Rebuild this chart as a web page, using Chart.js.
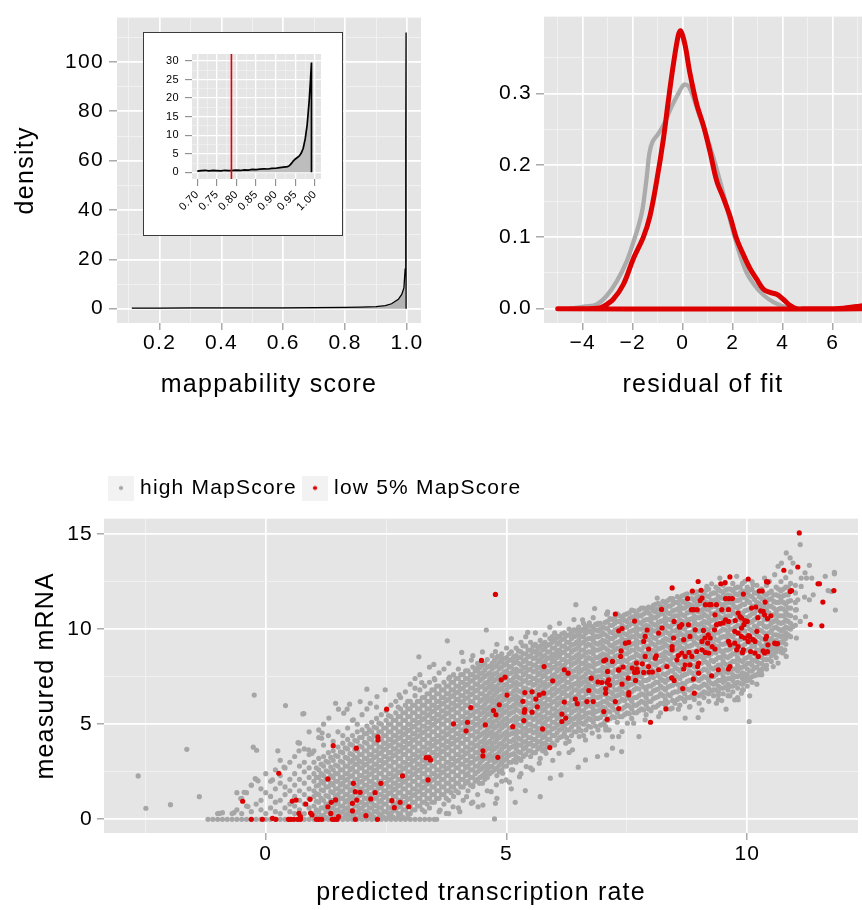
<!DOCTYPE html>
<html>
<head>
<meta charset="utf-8">
<script src="https://cdn.jsdelivr.net/npm/chart.js@4.4.1/dist/chart.umd.min.js"></script>
<style>
  html, body { margin: 0; padding: 0; background: #fff; }
  #page { position: relative; width: 862px; height: 910px; overflow: hidden; }
  canvas { display: block; }
  #mapChart { position: absolute; left: 0; top: 0; }
  #residChart { position: absolute; left: 430px; top: 0; }
  #scatterChart { position: absolute; left: 0; top: 440px; }
  #insetBox { position: absolute; left: 143px; top: 32px; width: 200px; height: 204px;
              box-sizing: border-box; border: 1px solid #3a3a3a; background: #fff; }
</style>
</head>
<body>
<div id="page">
  <canvas id="mapChart" width="430" height="420"></canvas>
  <div id="insetBox"><canvas id="insetChart" width="198" height="202"></canvas></div>
  <canvas id="residChart" width="432" height="420"></canvas>
  <canvas id="scatterChart" width="862" height="470"></canvas>
</div>
<script>
// ---------- mappability score density ----------
const mapScore   = [0.11, 0.2, 0.3, 0.4, 0.5, 0.6, 0.7, 0.8, 0.85, 0.9, 0.93, 0.95, 0.972, 0.983, 0.99, 0.994, 0.996, 0.997, 0.9971];
const mapDensity = [0.2, 0.25, 0.3, 0.3, 0.35, 0.35, 0.4, 0.5, 0.6, 0.8, 1.2, 2.0, 3.8, 5.8, 8.4, 16, 69, 112, 0];

// close-up of the upper tail
const zoomScore   = [0.70, 0.71, 0.72, 0.73, 0.74, 0.75, 0.76, 0.77, 0.78, 0.79, 0.80, 0.81, 0.82, 0.83, 0.84, 0.85, 0.86, 0.87, 0.88, 0.89,
                     0.90, 0.91, 0.92, 0.93, 0.935, 0.94, 0.945, 0.95, 0.955, 0.96, 0.965, 0.97, 0.975, 0.98, 0.985, 0.988, 0.991, 0.9911];
const zoomDensity = [0.3, 0.45, 0.55, 0.4, 0.5, 0.45, 0.4, 0.55, 0.45, 0.5, 0.6, 0.5, 0.65, 0.6, 0.8, 0.75, 0.85, 0.95, 0.9, 1.05,
                     1.1, 1.25, 1.4, 1.55, 1.8, 2.4, 3.1, 3.6, 4.0, 4.4, 5.2, 6.5, 9.0, 12.8, 19, 24, 29.6, 0];
const lowCutoff = 0.787;

// ---------- residual densities ----------
const residHighX = [-4.5, -3.9, -3.44, -3.04, -2.64, -2.24, -1.97, -1.77, -1.64, -1.57, -1.44, -1.33, -1.2, -0.97, -0.71, -0.44, -0.17, 0.05,
                    0.23, 0.43, 0.69, 0.96, 1.23, 1.49, 1.76, 2.03, 2.29, 2.56, 2.89, 3.23, 3.63, 4.03, 4.43, 4.8];
const residHighY = [0, 0.003, 0.006, 0.018, 0.038, 0.066, 0.093, 0.115, 0.133, 0.147, 0.183, 0.217, 0.233, 0.244, 0.26, 0.282, 0.30, 0.312,
                    0.31, 0.294, 0.267, 0.24, 0.21, 0.178, 0.142, 0.106, 0.075, 0.05, 0.032, 0.019, 0.009, 0.003, 0, 0];
const residLowX = [-5.0, -4.0, -3.4, -3.17, -2.77, -2.37, -1.97, -1.57, -1.31, -1.04, -0.77, -0.57, -0.37, -0.17, -0.08, 0.09, 0.29, 0.56,
                   0.83, 1.09, 1.36, 1.63, 1.89, 2.16, 2.43, 2.69, 2.96, 3.23, 3.49, 3.76, 4.03, 4.29, 4.56, 5.0, 6.0, 6.43, 6.96, 7.3, 7.3, -5.0];
const residLowY = [0, 0, 0.0005, 0.003, 0.0135, 0.034, 0.07, 0.10, 0.129, 0.178, 0.237, 0.291, 0.341, 0.382, 0.387, 0.368, 0.328, 0.285,
                   0.255, 0.219, 0.178, 0.154, 0.129, 0.097, 0.075, 0.056, 0.041, 0.027, 0.0226, 0.02, 0.0127, 0.0045, 0, 0, 0, 0.0005, 0.003, 0.004, 0, 0];

// ---------- measured vs predicted, high MapScore genes ----------
// each row: predicted rate, then the measured values at that rate
const highColsLeft = [
  [-1.1,0],[-1.0,0,0.3],[-0.9,0,0.35],[-0.8,0],[-0.7,0,0.3],[-0.6,0,0.5,1.4],[-0.5,0,0.3,1.1],[-0.4,0,0.7,1.4],[-0.3,0,0.4,1.8],
  [-0.2,0,0.8,2.1],[-0.1,0,0.5,1.0,1.6],[0.0,0,0.3,1.4,2.4],[0.1,0,0.6,1.2,2.0],[0.2,0,0.4,0.9,1.6,2.6],[0.3,0,0.3,1.0,1.9,2.3,3.1],
  [0.4,0,0.6,1.3,1.7,2.7],[0.5,0,0.4,0.8,1.5,2.1,3.0],[0.6,0,0.3,0.7,1.2,1.8,2.4,3.3],[0.7,0,0.5,1.0,1.5,2.1,2.8,4.0],
  [0.8,0,0.3,0.8,1.3,1.9,2.5,3.0,3.7],[0.9,0,0.6,1.1,1.6,2.2,2.7,3.4,4.6],[1.0,0,0.3,0.7,1.2,1.5,2.0,2.4,3.0,3.6],
  [1.1,0,0.4,0.9,1.3,1.8,2.2,2.6,3.2,4.3],[1.2,0,0.2,0.6,1.0,1.5,1.9,2.3,2.8,3.3,3.9,5.0],[1.3,0,0.4,0.8,1.2,1.7,2.1,2.5,3.0,3.5,4.4],
  [1.4,0,0.3,0.6,1.0,1.4,1.8,2.2,2.6,3.1,3.6,4.1],[1.5,0,0.2,0.5,0.9,1.3,1.6,2.0,2.4,2.8,3.3,3.8,4.6],
  [1.6,0,0.4,0.7,1.1,1.5,1.9,2.2,2.6,3.0,3.5,4.0,4.4],[1.7,0,0.3,0.6,1.0,1.3,1.7,2.1,2.4,2.8,3.2,3.7,4.2,4.8],
  [1.8,0,0.2,0.5,0.9,1.2,1.6,1.9,2.3,2.7,3.1,3.4,3.9,4.4,5.2],[1.9,0,0.4,0.7,1.1,1.4,1.8,2.1,2.5,2.9,3.2,3.6,4.1,4.6,5.0],
  [2.0,0,0.2,0.6,0.9,1.3,1.6,2.0,2.3,2.7,3.0,3.4,3.8,4.3,4.7,5.5],[2.1,0,0.4,0.8,1.1,1.5,1.8,2.2,2.5,2.9,3.2,3.6,4.0,4.5,4.9,5.8],
  [2.2,0,0.2,0.6,0.9,1.3,1.7,2.0,2.4,2.7,3.1,3.4,3.8,4.2,4.6,5.1],[2.3,0,0.4,0.7,1.1,1.5,1.8,2.2,2.6,2.9,3.3,3.6,4.0,4.4,4.8,5.3,5.9],
  [2.4,0,0.2,0.6,1.0,1.3,1.7,2.0,2.4,2.8,3.1,3.5,3.8,4.2,4.6,5.0,5.5],[2.5,0,0.4,0.8,1.2,1.5,1.9,2.2,2.6,3.0,3.3,3.7,4.0,4.4,4.8,5.2,5.7],
  [2.6,0,0.3,0.6,1.0,1.4,1.7,2.1,2.4,2.8,3.2,3.5,3.9,4.2,4.6,5.0,5.4,6.0],[2.7,0,0.5,0.8,1.2,1.6,1.9,2.3,2.6,3.0,3.4,3.7,4.1,4.4,4.8,5.2,5.6,6.2],
  [2.8,0,0.3,0.7,1.0,1.4,1.8,2.1,2.5,2.8,3.2,3.6,3.9,4.3,4.6,5.0,5.4,5.8,6.4],[2.9,0,0.5,0.9,1.2,1.6,2.0,2.3,2.7,3.0,3.4,3.8,4.1,4.5,4.8,5.2,5.6,6.0,6.7]
];
const highColsMid = [
  [3.0,0,0.3,0.7,1.1,1.4,1.8,2.2,2.5,2.9,3.2,3.6,4.0,4.3,4.7,5.0,5.4,5.8,6.2,7.1],
  [3.1,0,0.5,0.9,1.3,1.6,2.0,2.4,2.7,3.1,3.4,3.8,4.2,4.5,4.9,5.2,5.6,6.0,6.5,7.4],
  [3.2,0,0.7,1.1,1.5,1.8,2.2,2.6,2.9,3.3,3.6,4.0,4.4,4.7,5.1,5.4,5.8,6.2,6.8,7.6],
  [3.3,0,0.4,0.9,1.3,1.7,2.0,2.4,2.8,3.1,3.5,3.8,4.2,4.6,4.9,5.3,5.6,6.0,6.4,7.0],
  [3.4,0,0.6,1.1,1.5,1.9,2.2,2.6,3.0,3.3,3.7,4.0,4.4,4.8,5.1,5.5,5.8,6.2,6.6,7.2,8.0],
  [3.5,0,0.9,1.3,1.7,2.1,2.4,2.8,3.2,3.5,3.9,4.2,4.6,5.0,5.3,5.7,6.0,6.4,6.8,7.4],
  [3.6,0.4,1.1,1.5,1.9,2.3,2.6,3.0,3.4,3.7,4.1,4.4,4.8,5.2,5.5,5.9,6.2,6.6,7.0,7.7],
  [3.7,0.8,1.3,1.7,2.1,2.5,2.8,3.2,3.6,3.9,4.3,4.6,5.0,5.4,5.7,6.1,6.4,6.8,7.2,7.9],
  [3.8,0.3,1.0,1.5,1.9,2.3,2.7,3.0,3.4,3.8,4.1,4.5,4.8,5.2,5.6,5.9,6.3,6.6,7.0,7.4,8.2],
  [3.9,1.2,1.7,2.1,2.5,2.9,3.2,3.6,4.0,4.3,4.7,5.0,5.4,5.8,6.1,6.5,6.8,7.2,7.6],
  [4.0,0.6,1.4,1.9,2.3,2.7,3.1,3.4,3.8,4.2,4.5,4.9,5.2,5.6,6.0,6.3,6.7,7.0,7.4,7.9],
  [4.1,1.0,1.7,2.1,2.5,2.9,3.3,3.6,4.0,4.4,4.7,5.1,5.4,5.8,6.2,6.5,6.9,7.2,7.6,8.3],
  [4.2,1.5,2.0,2.4,2.8,3.1,3.5,3.8,4.2,4.6,4.9,5.3,5.6,6.0,6.4,6.7,7.1,7.4,7.8],
  [4.3,0.9,1.8,2.2,2.6,3.0,3.3,3.7,4.0,4.4,4.8,5.1,5.5,5.8,6.2,6.6,6.9,7.3,7.6,8.0,8.6],
  [4.4,1.3,2.1,2.5,2.8,3.2,3.5,3.9,4.3,4.6,5.0,5.3,5.7,6.0,6.4,6.8,7.1,7.5,7.8,8.2],
  [4.5,1.9,2.3,2.7,3.1,3.4,3.8,4.1,4.5,4.9,5.2,5.6,5.9,6.3,6.6,7.0,7.4,7.7,8.1,8.8],
  [4.6,1.5,2.2,2.6,2.9,3.3,3.7,4.0,4.4,4.7,5.1,5.5,5.8,6.2,6.5,6.9,7.2,7.6,8.0,8.4],
  [4.7,2.5,2.8,3.2,3.6,3.9,4.3,4.6,5.0,5.4,5.7,6.1,6.4,6.8,7.1,7.5,7.9,8.2,8.6],
  [4.8,1.1,2.3,2.7,3.1,3.4,3.8,4.2,4.5,4.9,5.2,5.6,6.0,6.3,6.7,7.0,7.4,7.7,8.1,8.5,9.2],
  [4.9,2.0,2.6,3.0,3.3,3.7,4.0,4.4,4.8,5.1,5.5,5.8,6.2,6.5,6.9,7.3,7.6,8.0,8.3,8.7],
  [5.0,2.8,3.2,3.5,3.9,4.3,4.6,5.0,5.3,5.7,6.0,6.4,6.8,7.1,7.5,7.8,8.2,8.5,9.0],
  [5.1,1.6,2.6,3.0,3.4,3.8,4.1,4.5,4.8,5.2,5.6,5.9,6.3,6.6,7.0,7.3,7.7,8.0,8.4,8.8,9.5],
  [5.2,3.0,3.3,3.7,4.0,4.4,4.7,5.1,5.4,5.8,6.2,6.5,6.9,7.2,7.6,7.9,8.3,8.6,9.0],
  [5.3,2.4,3.1,3.5,3.9,4.2,4.6,4.9,5.3,5.6,6.0,6.3,6.7,7.1,7.4,7.8,8.1,8.5,8.8,9.3],
  [5.4,3.4,3.8,4.1,4.5,4.8,5.2,5.5,5.9,6.2,6.6,6.9,7.3,7.7,8.0,8.4,8.7,9.1,9.6],
  [5.5,2.7,3.3,3.6,4.0,4.3,4.7,5.0,5.4,5.8,6.1,6.5,6.8,7.2,7.5,7.9,8.2,8.6,8.9,9.3],
  [5.6,3.5,3.9,4.2,4.6,4.9,5.3,5.6,6.0,6.4,6.7,7.1,7.4,7.8,8.1,8.5,8.8,9.2,9.8],
  [5.7,3.2,3.8,4.1,4.5,4.8,5.2,5.5,5.9,6.2,6.6,7.0,7.3,7.7,8.0,8.4,8.7,9.1,9.4],
  [5.8,3.7,4.0,4.4,4.7,5.1,5.4,5.8,6.1,6.5,6.9,7.2,7.6,7.9,8.3,8.6,9.0,9.3,9.7],
  [5.9,4.2,4.6,4.9,5.3,5.6,6.0,6.3,6.7,7.1,7.4,7.8,8.1,8.5,8.8,9.2,9.5,10.1],
  [6.0,3.9,4.4,4.8,5.1,5.5,5.8,6.2,6.6,6.9,7.3,7.6,8.0,8.3,8.7,9.0,9.4,9.8],
  [6.1,4.3,4.7,5.0,5.4,5.7,6.1,6.4,6.8,7.2,7.5,7.9,8.2,8.6,8.9,9.3,9.6,10.3],
  [6.2,4.5,4.9,5.2,5.6,5.9,6.3,6.7,7.0,7.4,7.7,8.1,8.4,8.8,9.1,9.5,9.8],
  [6.3,4.1,4.7,5.1,5.4,5.8,6.1,6.5,6.9,7.2,7.6,7.9,8.3,8.6,9.0,9.3,9.7,10.0],
  [6.4,4.6,5.0,5.3,5.7,6.0,6.4,6.8,7.1,7.5,7.8,8.2,8.5,8.9,9.2,9.6,9.9,10.5],
  [6.5,4.8,5.2,5.5,5.9,6.2,6.6,7.0,7.3,7.7,8.0,8.4,8.7,9.1,9.4,9.8,10.1],
  [6.6,4.4,5.0,5.4,5.7,6.1,6.4,6.8,7.2,7.5,7.9,8.2,8.6,8.9,9.3,9.6,10.0,10.3],
  [6.7,4.9,5.3,5.6,6.0,6.3,6.7,7.1,7.4,7.8,8.1,8.5,8.8,9.2,9.5,9.9,10.2],
  [6.8,5.1,5.5,5.8,6.2,6.5,6.9,7.3,7.6,8.0,8.3,8.7,9.0,9.4,9.7,10.1,10.6],
  [6.9,4.7,5.3,5.7,6.0,6.4,6.7,7.1,7.5,7.8,8.2,8.5,8.9,9.2,9.6,9.9,10.3]
];
const highColsRight = [
  [7.0,5.0,5.5,5.9,6.2,6.6,6.9,7.3,7.7,8.0,8.4,8.7,9.1,9.4,9.8,10.1],
  [7.1,5.2,5.7,6.1,6.4,6.8,7.1,7.5,7.9,8.2,8.6,8.9,9.3,9.6,10.0,10.4,10.9],
  [7.2,5.4,5.9,6.3,6.6,7.0,7.3,7.7,8.1,8.4,8.8,9.1,9.5,9.8,10.2,10.5],
  [7.3,5.1,5.6,6.1,6.5,6.8,7.2,7.5,7.9,8.3,8.6,9.0,9.3,9.7,10.0,10.4,10.8],
  [7.4,5.4,5.8,6.3,6.7,7.0,7.4,7.7,8.1,8.5,8.8,9.2,9.5,9.9,10.2,10.6],
  [7.5,5.6,6.0,6.5,6.9,7.2,7.6,7.9,8.3,8.7,9.0,9.4,9.7,10.1,10.4,10.8],
  [7.6,5.3,5.8,6.2,6.7,7.1,7.4,7.8,8.1,8.5,8.9,9.2,9.6,9.9,10.3,10.6,11.0],
  [7.7,5.6,6.0,6.4,6.9,7.3,7.6,8.0,8.3,8.7,9.1,9.4,9.8,10.1,10.5,10.8],
  [7.8,5.8,6.2,6.6,7.1,7.5,7.8,8.2,8.5,8.9,9.3,9.6,10.0,10.3,10.7,11.1],
  [7.9,5.5,6.0,6.4,6.8,7.3,7.7,8.0,8.4,8.7,9.1,9.5,9.8,10.2,10.5,10.9],
  [8.0,5.7,6.2,6.6,7.0,7.5,7.9,8.2,8.6,8.9,9.3,9.7,10.0,10.4,10.7,11.1],
  [8.1,5.9,6.4,6.8,7.2,7.7,8.1,8.4,8.8,9.1,9.5,9.9,10.2,10.6,10.9,11.3],
  [8.2,5.6,6.1,6.6,7.0,7.4,7.9,8.3,8.6,9.0,9.3,9.7,10.1,10.4,10.8,11.2],
  [8.3,6.0,6.3,6.8,7.2,7.6,8.1,8.5,8.8,9.2,9.5,9.9,10.3,10.6,11.0,11.4],
  [8.4,5.8,6.5,7.0,7.4,7.8,8.3,8.7,9.0,9.4,9.7,10.1,10.5,10.8,11.2,11.6],
  [8.5,6.1,6.7,7.2,7.6,8.0,8.5,8.9,9.2,9.6,9.9,10.3,10.7,11.0,11.4],
  [8.6,6.0,6.4,6.9,7.4,7.8,8.2,8.7,9.1,9.4,9.8,10.1,10.5,10.9,11.2,11.6],
  [8.7,6.2,6.6,7.1,7.6,8.0,8.4,8.9,9.3,9.6,10.0,10.3,10.7,11.1,11.4,11.8],
  [8.8,5.9,6.4,6.8,7.3,7.8,8.2,8.6,9.1,9.5,9.8,10.2,10.5,10.9,11.3,11.6],
  [8.9,6.3,6.6,7.0,7.5,8.0,8.4,8.8,9.3,9.7,10.0,10.4,10.7,11.1,11.5,11.9],
  [9.0,6.1,6.5,6.9,7.3,7.7,8.2,8.6,9.0,9.5,9.9,10.2,10.6,10.9,11.3,11.7],
  [9.1,6.4,6.7,7.1,7.5,7.9,8.4,8.8,9.2,9.7,10.1,10.4,10.8,11.1,11.5,11.9],
  [9.2,6.2,6.6,6.9,7.3,7.7,8.1,8.6,9.0,9.4,9.9,10.3,10.6,11.0,11.3,11.7,12.1],
  [9.3,6.5,6.8,7.1,7.5,7.9,8.3,8.8,9.2,9.6,10.1,10.5,10.8,11.2,11.5,11.9],
  [9.4,6.3,6.7,7.0,7.3,7.7,8.1,8.5,9.0,9.4,9.8,10.3,10.7,11.0,11.4,11.7,12.1],
  [9.5,6.6,6.9,7.2,7.5,7.9,8.3,8.7,9.2,9.6,10.0,10.5,10.9,11.2,11.6,11.9,12.3],
  [9.6,6.5,6.8,7.1,7.4,7.7,8.1,8.5,8.9,9.4,9.8,10.2,10.7,11.1,11.4,11.8,12.1],
  [9.7,6.7,7.0,7.3,7.6,7.9,8.3,8.7,9.1,9.6,10.0,10.4,10.9,11.3,11.6,12.0,12.4],
  [9.8,6.4,6.9,7.2,7.5,7.8,8.1,8.5,8.9,9.3,9.8,10.2,10.6,11.1,11.5,11.8,12.2],
  [9.9,6.8,7.1,7.4,7.7,8.0,8.3,8.7,9.1,9.5,10.0,10.4,10.8,11.3,11.7,12.0,12.4],
  [10.0,7.0,7.3,7.6,7.9,8.2,8.5,8.9,9.3,9.7,10.2,10.6,11.0,11.5,11.9,12.2],
  [10.1,7.2,7.5,7.8,8.1,8.4,8.7,9.1,9.5,9.9,10.4,10.8,11.2,11.7,12.1,12.5],
  [10.2,7.1,7.6,8.0,8.3,8.6,8.9,9.3,9.7,10.1,10.6,11.0,11.4,11.9,12.3],
  [10.3,7.6,7.9,8.2,8.5,8.8,9.1,9.5,9.9,10.3,10.8,11.2,11.6,12.1],
  [10.4,7.9,8.1,8.4,8.7,9.0,9.3,9.7,10.1,10.5,11.0,11.4,11.8,12.3],
  [10.5,8.3,8.6,8.9,9.2,9.5,9.9,10.3,10.7,11.2,11.6,12.0],
  [10.6,8.5,8.8,9.1,9.4,9.7,10.1,10.5,10.9,11.4,11.8,12.2],
  [10.7,8.8,9.0,9.3,9.6,9.9,10.3,10.7,11.1,11.6,12.0,12.5],
  [10.8,9.2,9.5,9.8,10.1,10.5,10.9,11.3,11.8,12.2,12.7],
  [10.9,9.6,10.0,10.3,10.7,11.1,11.5,12.0,12.4,13.0],
  [11.0,10.2,10.6,11.0,11.4,11.9,12.3]
];
// the crowded middle of the band, between the rows above
const highCoreLow = [
  [1.05,0.15,0.5,0.95,1.35,1.75,2.2,2.7],[1.15,0.2,0.6,1.1,1.55,2.0,2.4,2.9],[1.25,0.1,0.4,0.8,1.25,1.7,2.1,2.55,3.05],
  [1.35,0.2,0.6,1.0,1.45,1.9,2.3,2.75,3.25],[1.45,0.15,0.45,0.8,1.2,1.6,2.0,2.4,2.85,3.35],
  [1.55,0.1,0.35,0.7,1.1,1.45,1.8,2.2,2.6,3.05,3.55],[1.65,0.2,0.55,0.9,1.3,1.7,2.05,2.4,2.8,3.25,3.75],
  [1.75,0.15,0.45,0.8,1.15,1.5,1.9,2.25,2.6,3.0,3.45,3.95],[1.85,0.1,0.35,0.7,1.05,1.4,1.75,2.1,2.5,2.9,3.25,3.65,4.15],
  [1.95,0.1,0.3,0.55,0.9,1.25,1.6,1.95,2.3,2.7,3.05,3.4,3.85,4.3],
  [2.05,0.1,0.4,0.75,1.1,1.45,1.8,2.15,2.5,2.85,3.2,3.6,4.05,4.5],[2.15,0.1,0.3,0.6,0.95,1.3,1.65,2.0,2.35,2.7,3.05,3.4,3.8,4.25,4.7],
  [2.25,0.1,0.4,0.75,1.1,1.5,1.85,2.2,2.55,2.9,3.25,3.6,4.0,4.4,4.85],[2.35,0.1,0.3,0.6,0.9,1.3,1.65,2.0,2.4,2.75,3.1,3.45,3.8,4.2,4.6,5.05],
  [2.45,0.1,0.4,0.8,1.15,1.5,1.85,2.2,2.6,2.95,3.3,3.65,4.0,4.4,4.8],[2.55,0.1,0.3,0.6,1.0,1.35,1.7,2.05,2.4,2.8,3.15,3.5,3.85,4.2,4.6,5.0,5.45],
  [2.65,0.1,0.45,0.8,1.2,1.55,1.9,2.25,2.6,3.0,3.35,3.7,4.05,4.4,4.8,5.2],
  [2.75,0.1,0.3,0.65,1.0,1.4,1.75,2.1,2.45,2.8,3.2,3.55,3.9,4.25,4.6,5.0,5.4,5.9],
  [2.85,0.1,0.5,0.85,1.2,1.6,1.95,2.3,2.65,3.0,3.4,3.75,4.1,4.45,4.8,5.2,5.6],
  [2.95,0.1,0.3,0.7,1.05,1.4,1.8,2.15,2.5,2.85,3.2,3.6,3.95,4.3,4.65,5.0,5.4,5.8,6.2],
  [3.05,0.5,0.9,1.25,1.6,2.0,2.35,2.7,3.05,3.4,3.8,4.15,4.5,4.85,5.2,5.6,6.0],
  [3.15,0.7,1.1,1.45,1.8,2.2,2.55,2.9,3.25,3.6,4.0,4.35,4.7,5.05,5.4,5.8,6.2],
  [3.25,0.5,0.9,1.3,1.65,2.0,2.4,2.75,3.1,3.45,3.8,4.2,4.55,4.9,5.25,5.6,6.0,6.4],
  [3.35,0.8,1.1,1.5,1.85,2.2,2.6,2.95,3.3,3.65,4.0,4.4,4.75,5.1,5.45,5.8,6.2,6.6],
  [3.45,0.9,1.3,1.7,2.05,2.4,2.8,3.15,3.5,3.85,4.2,4.6,4.95,5.3,5.65,6.0,6.4,6.8],
  [3.55,1.1,1.5,1.9,2.25,2.6,3.0,3.35,3.7,4.05,4.4,4.8,5.15,5.5,5.85,6.2,6.6,7.0],
  [3.65,1.3,1.7,2.1,2.45,2.8,3.2,3.55,3.9,4.25,4.6,5.0,5.35,5.7,6.05,6.4,6.8],
  [3.75,1.1,1.5,1.9,2.3,2.65,3.0,3.4,3.75,4.1,4.45,4.8,5.2,5.55,5.9,6.25,6.6,7.0],
  [3.85,1.4,1.7,2.1,2.5,2.85,3.2,3.6,3.95,4.3,4.65,5.0,5.4,5.75,6.1,6.45,6.8,7.2],
  [3.95,1.5,1.9,2.3,2.7,3.05,3.4,3.8,4.15,4.5,4.85,5.2,5.6,5.95,6.3,6.65,7.0,7.4],
  [4.05,1.7,2.1,2.5,2.9,3.25,3.6,4.0,4.35,4.7,5.05,5.4,5.8,6.15,6.5,6.85,7.2,7.6],
  [4.15,1.9,2.3,2.7,3.1,3.45,3.8,4.2,4.55,4.9,5.25,5.6,6.0,6.35,6.7,7.05,7.4,7.8],
  [4.25,1.8,2.2,2.6,2.95,3.3,3.65,4.0,4.4,4.75,5.1,5.45,5.8,6.2,6.55,6.9,7.25,7.6],
  [4.35,2.0,2.4,2.8,3.15,3.5,3.85,4.2,4.6,4.95,5.3,5.65,6.0,6.4,6.75,7.1,7.45,7.8],
  [4.45,2.2,2.6,2.95,3.3,3.7,4.05,4.4,4.8,5.15,5.5,5.85,6.2,6.6,6.95,7.3,7.65,8.0],
  [4.55,2.1,2.45,2.8,3.2,3.55,3.9,4.25,4.6,5.0,5.35,5.7,6.05,6.4,6.8,7.15,7.5,7.85,8.2],
  [4.65,2.4,2.75,3.1,3.4,3.75,4.1,4.5,4.85,5.2,5.55,5.9,6.3,6.65,7.0,7.35,7.7,8.05],
  [4.75,2.6,3.0,3.35,3.7,4.05,4.4,4.8,5.15,5.5,5.85,6.2,6.55,6.9,7.3,7.65,8.0,8.35],
  [4.85,2.5,2.85,3.2,3.55,3.95,4.3,4.65,5.0,5.35,5.75,6.1,6.45,6.8,7.15,7.5,7.9,8.25],
  [4.95,2.8,3.1,3.45,3.8,4.15,4.5,4.9,5.25,5.6,5.95,6.3,6.7,7.05,7.4,7.75,8.1,8.45]
];
const highCoreHigh = [
  [5.05,3.0,3.35,3.7,4.1,4.45,4.8,5.15,5.5,5.85,6.2,6.6,6.95,7.3,7.65,8.0,8.35,8.7],
  [5.15,3.1,3.45,3.85,4.2,4.55,4.95,5.3,5.65,6.0,6.4,6.75,7.1,7.45,7.8,8.2,8.55],
  [5.25,3.2,3.55,3.9,4.25,4.6,4.95,5.3,5.7,6.05,6.4,6.75,7.1,7.45,7.8,8.2,8.5,8.85],
  [5.35,3.3,3.7,4.05,4.4,4.75,5.1,5.45,5.8,6.2,6.55,6.9,7.25,7.6,7.95,8.3,8.7],
  [5.45,3.6,3.95,4.3,4.65,5.0,5.35,5.75,6.1,6.45,6.8,7.15,7.5,7.85,8.2,8.55,8.9],
  [5.55,3.5,3.85,4.2,4.55,4.9,5.25,5.6,5.95,6.3,6.7,7.05,7.4,7.75,8.1,8.45,8.8,9.1],
  [5.65,3.7,4.05,4.4,4.75,5.1,5.45,5.8,6.15,6.5,6.85,7.25,7.6,7.95,8.3,8.65,9.0],
  [5.75,3.6,3.95,4.3,4.65,5.0,5.35,5.7,6.05,6.4,6.75,7.1,7.5,7.85,8.2,8.55,8.9,9.2],
  [5.85,3.9,4.2,4.55,4.9,5.25,5.6,5.95,6.3,6.65,7.0,7.4,7.75,8.1,8.45,8.8,9.15],
  [5.95,4.0,4.4,4.75,5.1,5.45,5.8,6.15,6.5,6.85,7.2,7.55,7.95,8.3,8.65,9.0,9.3,9.6],
  [6.05,4.15,4.55,4.95,5.3,5.65,6.0,6.35,6.7,7.1,7.45,7.8,8.15,8.5,8.85,9.2,9.55],
  [6.15,4.35,4.75,5.15,5.5,5.85,6.2,6.6,6.95,7.3,7.65,8.0,8.4,8.75,9.1,9.45,9.75],
  [6.25,4.3,4.7,5.05,5.4,5.75,6.1,6.5,6.85,7.2,7.55,7.9,8.25,8.6,8.95,9.3,9.65],
  [6.35,4.4,4.85,5.25,5.6,5.95,6.3,6.65,7.0,7.4,7.75,8.1,8.45,8.8,9.15,9.5,9.8],
  [6.45,4.6,5.0,5.4,5.75,6.1,6.45,6.8,7.15,7.5,7.9,8.25,8.6,8.95,9.3,9.65,9.95],
  [6.55,4.65,5.05,5.35,5.7,6.05,6.4,6.75,7.1,7.45,7.8,8.2,8.55,8.9,9.25,9.6,9.9],
  [6.65,4.7,5.15,5.55,5.9,6.25,6.6,6.95,7.3,7.65,8.0,8.35,8.75,9.1,9.45,9.8,10.1],
  [6.75,4.85,5.25,5.6,5.95,6.3,6.65,7.0,7.35,7.7,8.05,8.45,8.8,9.15,9.5,9.85,10.15],
  [6.85,4.9,5.3,5.65,6.05,6.4,6.75,7.1,7.45,7.8,8.15,8.5,8.9,9.25,9.6,9.95,10.25],
  [6.95,4.95,5.35,5.75,6.1,6.45,6.8,7.15,7.5,7.85,8.25,8.6,8.95,9.3,9.65,10.0,10.3],
  [7.05,5.15,5.5,5.85,6.2,6.55,6.9,7.25,7.6,7.95,8.3,8.65,9.0,9.35,9.7,10.05,10.35],
  [7.15,5.3,5.65,6.0,6.35,6.7,7.05,7.4,7.75,8.1,8.45,8.8,9.15,9.5,9.85,10.2,10.55],
  [7.25,5.35,5.75,6.1,6.45,6.8,7.15,7.5,7.85,8.2,8.55,8.9,9.25,9.6,9.95,10.3,10.6],
  [7.35,5.4,5.8,6.2,6.55,6.9,7.25,7.6,7.95,8.3,8.65,9.0,9.35,9.7,10.05,10.4,10.7],
  [7.45,5.5,5.9,6.25,6.6,6.95,7.3,7.65,8.0,8.35,8.7,9.05,9.4,9.75,10.1,10.45,10.75],
  [7.55,5.55,5.95,6.35,6.7,7.05,7.4,7.75,8.1,8.45,8.8,9.15,9.5,9.85,10.2,10.55,10.85],
  [7.65,5.6,6.0,6.4,6.8,7.15,7.5,7.85,8.2,8.55,8.9,9.25,9.6,9.95,10.3,10.65,10.95],
  [7.75,5.7,6.1,6.5,6.85,7.2,7.55,7.9,8.25,8.6,8.95,9.3,9.65,10.0,10.35,10.7,11.0],
  [7.85,5.75,6.15,6.55,6.95,7.3,7.65,8.0,8.35,8.7,9.05,9.4,9.75,10.1,10.45,10.8,11.1],
  [7.95,5.8,6.2,6.6,7.0,7.35,7.7,8.05,8.4,8.75,9.1,9.45,9.8,10.15,10.5,10.85,11.15],
  [8.05,5.9,6.35,6.75,7.1,7.45,7.8,8.15,8.5,8.85,9.2,9.55,9.9,10.25,10.6,10.95,11.25],
  [8.15,6.0,6.45,6.85,7.2,7.55,7.9,8.25,8.6,8.95,9.3,9.65,10.0,10.35,10.7,11.05,11.35],
  [8.25,6.1,6.5,6.9,7.3,7.65,8.0,8.35,8.7,9.05,9.4,9.75,10.1,10.45,10.8,11.15,11.45],
  [8.35,6.15,6.55,6.95,7.35,7.7,8.05,8.4,8.75,9.1,9.45,9.8,10.15,10.5,10.85,11.2,11.5],
  [8.45,6.25,6.65,7.05,7.45,7.8,8.15,8.5,8.85,9.2,9.55,9.9,10.25,10.6,10.95,11.3,11.6],
  [8.55,6.3,6.7,7.1,7.5,7.9,8.25,8.6,8.95,9.3,9.65,10.0,10.35,10.7,11.05,11.4,11.7],
  [8.65,6.35,6.75,7.15,7.55,7.95,8.3,8.65,9.0,9.35,9.7,10.05,10.4,10.75,11.1,11.45,11.75],
  [8.75,6.4,6.85,7.25,7.65,8.05,8.4,8.75,9.1,9.45,9.8,10.15,10.5,10.85,11.2,11.55,11.85],
  [8.85,6.5,6.9,7.3,7.7,8.1,8.45,8.8,9.15,9.5,9.85,10.2,10.55,10.9,11.25,11.6,11.9],
  [8.95,6.55,6.95,7.35,7.75,8.15,8.5,8.85,9.2,9.55,9.9,10.25,10.6,10.95,11.3,11.65,11.95],
  [9.05,6.6,7.0,7.4,7.8,8.2,8.55,8.9,9.25,9.6,9.95,10.3,10.65,11.0,11.35,11.7,12.0],
  [9.15,6.65,7.05,7.45,7.85,8.25,8.6,8.95,9.3,9.65,10.0,10.35,10.7,11.05,11.4,11.75,12.05],
  [9.25,6.75,7.15,7.55,7.95,8.35,8.7,9.05,9.4,9.75,10.1,10.45,10.8,11.15,11.5,11.85],
  [9.35,6.8,7.2,7.6,8.0,8.4,8.75,9.1,9.45,9.8,10.15,10.5,10.85,11.2,11.55,11.9,12.2],
  [9.45,6.9,7.3,7.7,8.1,8.5,8.85,9.2,9.55,9.9,10.25,10.6,10.95,11.3,11.65,12.0],
  [9.55,6.95,7.35,7.75,8.15,8.55,8.9,9.25,9.6,9.95,10.3,10.65,11.0,11.35,11.7,12.05],
  [9.65,7.0,7.4,7.8,8.2,8.6,8.95,9.3,9.65,10.0,10.35,10.7,11.05,11.4,11.75,12.1],
  [9.75,7.1,7.5,7.9,8.3,8.7,9.05,9.4,9.75,10.1,10.45,10.8,11.15,11.5,11.85,12.15],
  [9.85,7.15,7.55,7.95,8.35,8.75,9.1,9.45,9.8,10.15,10.5,10.85,11.2,11.55,11.9,12.2],
  [9.95,7.25,7.65,8.05,8.45,8.85,9.2,9.55,9.9,10.25,10.6,10.95,11.3,11.65,12.0],
  [10.05,7.4,7.8,8.2,8.6,8.95,9.3,9.65,10.0,10.35,10.7,11.05,11.4,11.75,12.05],
  [10.15,7.55,7.95,8.35,8.75,9.1,9.45,9.8,10.15,10.5,10.85,11.2,11.55,11.9],
  [10.25,7.8,8.2,8.55,8.9,9.25,9.6,9.95,10.3,10.65,11.0,11.35,11.7,12.0],
  [10.35,8.05,8.4,8.75,9.1,9.45,9.8,10.15,10.5,10.85,11.2,11.55,11.85],
  [10.45,8.4,8.75,9.1,9.45,9.8,10.15,10.5,10.85,11.2,11.55,11.9],
  [10.55,8.7,9.0,9.35,9.7,10.05,10.4,10.75,11.1,11.45,11.8],
  [10.65,8.95,9.3,9.65,10.0,10.35,10.7,11.05,11.4,11.75,12.1],
  [10.75,9.3,9.65,10.0,10.35,10.7,11.05,11.4,11.75,12.1],
  [10.85,9.7,10.05,10.4,10.75,11.1,11.45,11.8,12.2]
];
// scattered high-MapScore genes away from the main band (rate, mRNA pairs)
const highOutliers = [
  -2.65,2.28, -2.49,0.58, -1.98,0.77, -1.64,3.68, -1.38,1.19, -1.2,0, -0.96,0.31, -0.66,0.35, -0.52,1.09, -0.37,0.67,
  -0.45,1.42, -0.24,6.53, 0.41,5.98, -0.26,3.79, -0.19,3.63, 0.25,3.6, -0.3,1.79, -0.22,2.14, -0.16,2.02, 0.14,2.07, 0.38,2.74,
  0.67,4.03, 0.69,3.6, 0.77,5.54, 0.79,5.56, 0.89,3.65, 0.96,3.47, 1.16,4.26, 1.10,4.7, 1.17,4.53, 1.31,5.32, 1.45,6.1,
  1.51,5.79, 1.62,5.58, 1.69,5.79, 1.74,6.05, 1.82,5.23, 2.10,6.84, 2.31,6.45, 2.48,6.81, 2.77,6.54, 3.24,7.19, 3.51,7.33,
  3.82,7.47, 3.10,6.89, 1.96,6.19, 2.17,6.1,
  3.18,8.54, 3.49,8.14, 3.77,9.38, 4.07,8.77, 4.27,8.37, 4.39,7.93, 4.44,7.97, 4.58,9.95, 4.77,8.82, 4.82,8.56, 4.89,8.47,
  5.34,9.12, 5.44,9.82, 5.54,8.86, 5.65,8.77, 5.94,9.44, 6.06,9.61, 6.44,11.28, 6.83,11.08, 7.08,10.79, 6.40,9.96, 6.51,9.7,
  6.64,9.79, 6.78,9.88, 6.95,9.96, 6.58,10.49, 6.72,10.32, 6.89,10.23, 6.64,10.05, 5.96,8.56, 6.09,8.74, 5.06,8.03, 5.20,8.3,
  7.09,10.79, 7.44,10.49, 7.61,10.61, 7.78,10.7, 7.92,11.07, 8.06,11.05, 8.13,11.63, 8.44,11.54, 8.71,11.45, 9.16,12.24,
  9.26,12.38, 9.43,12.68, 9.78,12.77, 9.95,12.51, 10.12,12.33, 10.36,12.68, 10.46,12.51, 10.57,12.86, 10.64,13.3, 10.71,13.47,
  10.81,14.0, 10.89,13.74, 10.95,13.47, 11.1,14.44, 11.29,13.35, 11.2,12.96, 11.12,12.68, 11.23,12.68, 11.34,12.68, 11.62,12.77,
  11.81,12.98, 11.81,12.9, 11.68,12.02, 11.75,11.98, 11.37,11.8, 11.29,11.54, 11.12,12.24, 11.05,11.54, 11.19,11.68, 11.83,11.0,
  11.02,11.02, 10.95,10.14, 11.02,9.53, 10.74,9.35, 11.21,10.66, 11.1,10.4, 10.78,8.91, 10.81,8.56, 10.64,8.21, 10.54,8.03, 10.74,8.74,
  7.2,3.74, 7.39,3.56, 7.75,4.35, 7.33,4.35, 7.2,4.35, 7.40,4.61, 7.13,4.7, 7.06,4.87, 7.64,5.05, 7.51,5.05, 7.88,5.23, 8.16,5.4,
  8.71,5.32, 8.98,5.35, 8.44,5.84, 8.57,5.79, 8.81,5.93, 9.06,5.75, 9.36,6.1, 9.47,6.24, 9.56,5.79, 9.40,6.54, 9.64,6.49, 9.74,6.28,
  9.81,6.28, 9.88,6.63, 9.92,6.81, 10.05,6.49, 10.04,5.14, 10.23,7.6, 10.29,7.77, 9.95,7.51, 10.02,7.33,
  4.75,0.02, 4.77,0.84, 4.68,1.45, 5.18,0.89, 5.06,1.95, 5.39,1.51, 5.70,1.19, 5.91,2.16, 5.96,3.1, 6.13,2.33, 6.30,3.51, 6.49,2.74,
  6.89,3.3, 7.08,3.38, 4.27,0.84, 4.41,0.66, 4.51,0.75, 4.17,1.19, 4.30,1.72, 4.44,1.89, 4.58,2.24, 4.79,1.81, 4.92,2.42, 4.99,2.07,
  5.13,2.6, 5.27,2.24, 5.41,2.77, 5.54,2.6, 5.68,2.95, 5.82,3.47, 6.09,3.47, 6.23,4.0, 6.37,3.65, 6.51,4.35, 6.64,4.17, 6.78,4.53,
  6.92,4.35, 7.06,4.7, 6.64,3.12, 3.55,0, 3.62,0.49, 3.75,0.31, 3.89,0.66, 4.03,0.4
];

// ---------- low 5% MapScore genes (rate, mRNA pairs) ----------
const lowNearZero = [
  -0.48,0.95, -0.30,0, -0.07,0, 0.14,0.05, 0.21,0, 0.27,2.42, 0.47,0, 0.52,0, 0.58,0, 0.66,0, 0.72,0, 0.55,0.96, 0.63,1.01,
  0.69,0.31, 0.72,0.14, 0.83,0.8, 0.92,1.05, 0.93,0.33, 0.96,0.23, 1.05,0, 1.10,0, 1.16,0, 1.29,2.12, 1.29,0.66, 1.35,0.31,
  1.36,0.89, 1.45,1.02, 1.38,0, 1.43,0, 1.48,0, 1.51,0.14, 1.40,3.87, 1.80,0.84, 1.80,0.44, 1.82,1.89, 1.86,1.45, 1.89,1.01,
  1.88,3.74, 1.86,0
];
const lowMiddle = [
  2.08,0.19, 2.32,0, 1.96,1.42, 2.27,1.4, 2.18,1.07, 2.39,1.89, 2.62,0.98, 2.67,0.61, 2.79,0.89, 2.97,0.66, 2.84,2.28, 3.37,2.07,
  2.33,4.33, 2.33,4.17, 2.51,5.79, 3.33,3.24, 3.39,3.24, 3.42,3.12, 3.90,5.02, 4.16,4.65, 4.19,5.10, 4.26,5.87, 4.51,3.60,
  4.51,3.33, 4.56,4.96, 4.73,5.72, 4.78,5.49, 4.85,6.02, 4.82,3.26, 4.89,7.33, 4.97,7.47, 5.01,6.53, 5.13,4.87, 5.34,6.20,
  5.38,5.77, 5.37,5.63, 5.53,5.63, 5.64,5.91, 5.38,6.66, 5.53,6.70, 5.61,6.32, 5.68,6.54, 5.77,6.63, 5.36,5.19, 5.75,4.75,
  5.90,3.77, 5.96,7.28, 6.15,5.53, 6.23,5.32, 6.15,5.14, 6.20,6.16, 6.43,6.32, 6.47,6.08, 6.67,6.19, 6.80,6.19, 6.71,6.77,
  6.76,7.42, 6.90,7.22, 6.98,7.19, 4.77,11.82, 4.48,8.35, 5.78,8.03, 6.20,7.86, 6.28,7.68, 7.02,8.33, 7.10,7.77
];
const lowUpper = [
  7.09,5.26, 7.02,5.66, 7.33,5.82, 7.26,6.19, 7.06,6.86, 7.06,6.63, 7.40,7.10, 7.54,6.66, 7.54,6.54, 7.14,7.06, 7.09,7.19,
  7.12,7.33, 7.53,7.42, 7.68,7.30, 7.72,7.74, 7.96,7.74, 8.03,7.74, 7.99,5.10, 8.31,5.80, 8.43,7.44, 8.48,7.30, 8.66,6.87,
  8.90,6.63, 8.88,7.37, 9.26,7.54, 7.33,7.84, 7.42,8.0, 7.61,7.95,
  11.08,15.05, 10.76,13.09, 11.05,13.26, 10.02,12.63, 9.64,12.74, 9.45,12.38, 9.54,12.44, 8.98,12.50, 8.44,12.16, 8.86,12.0,
  9.04,12.04, 8.76,11.6, 8.22,11.03, 10.40,12.49, 10.43,12.47, 10.25,12.0, 10.31,12.0, 10.89,11.98, 10.92,12.02, 11.47,12.38,
  11.50,12.38, 11.80,12.02, 11.57,11.42, 11.31,10.24, 11.55,10.17, 7.26,10.79, 7.66,10.42, 7.33,9.91, 7.40,10.03, 7.92,9.95,
  8.48,10.40, 7.88,9.61, 7.85,9.35, 9.55,11.6, 9.62,11.6, 9.69,11.6, 9.21,11.28, 9.25,11.28, 9.36,11.28, 10.18,11.16, 10.09,11.1,
  10.33,10.93, 10.36,10.74, 10.49,10.70, 10.37,11.42, 9.81,10.84, 9.85,10.66, 9.88,10.58, 9.95,10.45, 10.0,10.4, 9.93,10.23,
  9.88,10.05, 9.47,11.02, 9.33,10.75, 9.61,11.02, 9.02,11.5, 9.06,11.63, 9.13,11.28, 8.84,11.02, 8.89,11.02, 8.96,11.02,
  8.64,10.23, 8.78,10.23, 8.59,10.14, 9.43,10.28, 9.50,10.32, 9.55,10.49, 9.61,10.4, 9.75,10.45, 9.32,9.96, 9.19,9.7, 9.12,9.53,
  9.06,9.35, 9.18,9.26, 9.23,9.53, 9.06,8.91, 9.13,8.77, 9.20,8.74, 9.27,9.08, 9.33,8.95, 9.74,9.88, 9.81,9.79, 9.88,9.61,
  9.95,9.53, 10.02,9.35, 10.05,9.61, 10.12,9.44, 10.16,9.35, 9.61,9.35, 9.64,9.17, 9.74,9.26, 9.78,8.91, 9.81,9.08, 9.92,8.91,
  10.07,8.82, 10.16,8.74, 10.23,8.56, 10.36,8.74, 10.43,9.17, 10.38,9.49, 10.40,9.61, 10.60,9.23, 10.63,9.23, 10.33,8.86,
  10.42,8.81, 8.79,8.77, 8.85,8.56, 8.95,8.82, 8.71,8.56, 8.64,8.74, 8.57,8.61, 8.97,8.03, 8.99,8.21, 8.71,8.12, 8.68,7.9,
  8.81,8.12, 8.54,8.38, 8.44,8.91, 8.33,8.03, 8.09,8.47, 8.11,8.59, 7.95,8.95, 7.88,8.56, 7.70,8.21, 7.71,7.9, 7.82,8.17,
  7.95,8.03, 7.85,7.72, 7.47,9.26, 7.54,9.3, 7.37,8.56, 7.33,7.86, 7.20,8.3, 7.06,8.38, 8.99,7.68, 9.40,7.86, 9.64,8.03,
  9.92,11.84, 9.36,10.23, 9.09,9.93, 8.68,9.44, 8.81,9.61, 8.92,9.96, 8.44,9.08, 8.16,9.79, 8.47,9.53, 8.23,10.05, 8.6,10.1,
  7.38,8.85, 7.66,7.72, 8.16,7.86, 9.61,7.9, 9.9,8.77, 10.57,9.26, 10.03,9.65, 10.22,10.6, 10.28,10.95, 10.42,10.55, 10.2,9.88
];

// ---------- helpers ----------
const FONT = "'Liberation Sans', Arial, Helvetica, sans-serif";
const toPoints = (xs, ys) => xs.map((x, i) => ({x, y: ys[i]}));
function fromPairs(list) {
  const out = [];
  for (let i = 0; i < list.length; i += 2) out.push({x: list[i], y: list[i + 1]});
  return out;
}
function fromColumns(cols) {
  const out = [];
  cols.forEach(c => { for (let i = 1; i < c.length; i++) out.push({x: c[0], y: c[i]}); });
  return out;
}

// grey panel behind the plotting area, plus text tracking for the canvas
const panelPlugin = {
  id: 'panel',
  beforeUpdate(chart, args, opts) { chart.ctx.letterSpacing = (opts.spacing || 0) + 'px'; },
  beforeDraw(chart, args, opts) {
    const ctx = chart.ctx, a = chart.chartArea;
    ctx.letterSpacing = (opts.spacing || 0) + 'px';
    ctx.save();
    ctx.fillStyle = opts.color || '#e5e5e5';
    ctx.fillRect(a.left, a.top, a.right - a.left, a.bottom - a.top);
    ctx.restore();
  }
};

// places the legend row above the scatter panel
const legendSpot = {
  id: 'legendSpot',
  beforeDraw(chart, args, opts) {
    const lg = chart.legend;
    if (!lg) return;
    lg.left = opts.left; lg.top = opts.top;
    lg.right = opts.left + 740; lg.bottom = opts.top + lg.height;
  }
};

function axis(cfg) {
  const minor = cfg.minor || [];
  const isMinor = v => minor.some(m => Math.abs(m - v) < 1e-9);
  const all = cfg.major.concat(minor).sort((a, b) => a - b);
  const minorCtx = c => c.tick && isMinor(c.tick.value);
  return {
    type: 'linear', position: cfg.position, min: cfg.min, max: cfg.max,
    afterBuildTicks: s => { s.ticks = all.map(v => ({value: v})); },
    afterFit: s => { if (cfg.position === 'left') s.width = cfg.size; else s.height = cfg.size; },
    border: {display: false},
    grid: {
      color: c => minorCtx(c) ? '#f2f2f2' : '#ffffff',
      lineWidth: c => minorCtx(c) ? (cfg.minorWidth || 0.9) : (cfg.majorWidth || 1.7),
      tickColor: c => minorCtx(c) ? 'rgba(0,0,0,0)' : '#7f7f7f',
      tickLength: cfg.tickLength, tickWidth: 1, drawTicks: true
    },
    ticks: {
      autoSkip: false, padding: cfg.pad, color: '#000',
      font: {family: FONT, size: cfg.fontSize},
      maxRotation: cfg.rotation || 0, minRotation: cfg.rotation || 0,
      callback: v => isMinor(v) ? '' : cfg.format(v)
    },
    title: cfg.title
      ? {display: true, text: cfg.title, color: '#000', font: {family: FONT, size: 25}, padding: cfg.titlePad}
      : {display: false}
  };
}
const baseOptions = { responsive: false, animation: false, events: [], devicePixelRatio: 1 };

// ---------- mappability score density ----------
new Chart(document.getElementById('mapChart'), {
  type: 'scatter',
  data: { datasets: [{
    data: toPoints(mapScore, mapDensity), showLine: true, pointRadius: 0, tension: 0,
    borderColor: '#000', borderWidth: 1.3, fill: 'origin', backgroundColor: '#b3b3b3'
  }]},
  options: Object.assign({}, baseOptions, {
    layout: {padding: {top: 8, right: 9, left: 0, bottom: 0}},
    plugins: {legend: {display: false}, tooltip: {enabled: false}, panel: {spacing: 1.3}},
    scales: {
      x: axis({position: 'bottom', min: 0.0622, max: 1.0453, major: [0.2, 0.4, 0.6, 0.8, 1.0], minor: [0.1, 0.3, 0.5, 0.7, 0.9],
               size: 97, tickLength: 7, pad: 1, fontSize: 21, format: v => v.toFixed(1),
               title: 'mappability score', titlePad: {top: 0, bottom: 20}}),
      y: axis({position: 'left', min: -5.8, max: 118, major: [0, 20, 40, 60, 80, 100], minor: [10, 30, 50, 70, 90, 110],
               size: 117, tickLength: 8, pad: 5, fontSize: 21, format: v => String(v),
               title: 'density', titlePad: {top: 11, bottom: 0}})
    }
  }),
  plugins: [panelPlugin]
});

// ---------- close-up inset ----------
new Chart(document.getElementById('insetChart'), {
  type: 'scatter',
  data: { datasets: [
    { data: [{x: lowCutoff, y: -1.8}, {x: lowCutoff, y: 31.9}], showLine: true, pointRadius: 0,
      borderColor: '#e60000', borderWidth: 1.6, order: 0 },
    { data: toPoints(zoomScore, zoomDensity), showLine: true, pointRadius: 0, tension: 0,
      borderColor: '#000', borderWidth: 1.7, fill: 'origin', backgroundColor: '#bdbdbd', order: 1 }
  ]},
  options: Object.assign({}, baseOptions, {
    layout: {padding: {top: 21, right: 21, left: 0, bottom: 0}},
    plugins: {legend: {display: false}, tooltip: {enabled: false}, panel: {spacing: 0.4}},
    scales: {
      x: axis({position: 'bottom', min: 0.6865, max: 1.0153, major: [0.70, 0.75, 0.80, 0.85, 0.90, 0.95, 1.00],
               minor: [0.725, 0.775, 0.825, 0.875, 0.925, 0.975], size: 56, tickLength: 7, pad: 2, fontSize: 11,
               rotation: 45, format: v => v.toFixed(2), majorWidth: 1.3, minorWidth: 0.7}),
      y: axis({position: 'left', min: -1.8, max: 31.9, major: [0, 5, 10, 15, 20, 25, 30],
               minor: [2.5, 7.5, 12.5, 17.5, 22.5, 27.5], size: 48, tickLength: 7, pad: 6, fontSize: 11,
               format: v => String(v), majorWidth: 1.3, minorWidth: 0.7})
    }
  }),
  plugins: [panelPlugin]
});

// ---------- residual densities ----------
new Chart(document.getElementById('residChart'), {
  type: 'scatter',
  data: { datasets: [
    { data: toPoints(residLowX, residLowY), showLine: true, pointRadius: 0, tension: 0.35,
      borderColor: '#dd0000', borderWidth: 5, borderCapStyle: 'round', borderJoinStyle: 'round', order: 0 },
    { data: toPoints(residHighX, residHighY), showLine: true, pointRadius: 0, tension: 0.35,
      borderColor: '#ababab', borderWidth: 4.3, borderCapStyle: 'round', borderJoinStyle: 'round', order: 1 }
  ]},
  options: Object.assign({}, baseOptions, {
    layout: {padding: {top: 8, right: 0, left: 0, bottom: 0}},
    plugins: {legend: {display: false}, tooltip: {enabled: false}, panel: {spacing: 1.3}},
    scales: {
      x: axis({position: 'bottom', min: -5.548, max: 7.172, major: [-4, -2, 0, 2, 4, 6], minor: [-5, -3, -1, 1, 3, 5, 7],
               size: 97, tickLength: 7, pad: 1, fontSize: 21, format: v => (v < 0 ? '\u2212' + Math.abs(v) : String(v)),
               title: 'residual of fit', titlePad: {top: 0, bottom: 20}}),
      y: axis({position: 'left', min: -0.02, max: 0.407, major: [0, 0.1, 0.2, 0.3], minor: [0.05, 0.15, 0.25, 0.35],
               size: 114, tickLength: 8, pad: 4, fontSize: 21, format: v => v.toFixed(1)})
    }
  }),
  plugins: [panelPlugin]
});

// ---------- measured mRNA vs predicted transcription rate ----------
function legendKey(color) {
  const c = document.createElement('canvas');
  c.width = 26; c.height = 25;
  const g = c.getContext('2d');
  g.fillStyle = '#f2f2f2';
  g.fillRect(0, 0, 26, 25);
  g.fillStyle = color;
  g.beginPath(); g.arc(13, 12.5, 2.1, 0, Math.PI * 2); g.fill();
  return c;
}
const highColor = '#a6a6a6', lowColor = '#dd0000';
const legendKeys = [legendKey(highColor), legendKey(lowColor)];

const highPoints = fromColumns(highColsLeft).concat(
  fromColumns(highColsMid), fromColumns(highColsRight),
  fromColumns(highCoreLow), fromColumns(highCoreHigh), fromPairs(highOutliers));
const lowPoints = fromPairs(lowNearZero).concat(fromPairs(lowMiddle), fromPairs(lowUpper));

const scatter = new Chart(document.getElementById('scatterChart'), {
  type: 'scatter',
  data: { datasets: [
    { label: 'high MapScore', data: highPoints, pointRadius: 2.6, pointBorderWidth: 0,
      pointBackgroundColor: highColor, backgroundColor: highColor, order: 1 },
    { label: 'low 5% MapScore', data: lowPoints, pointRadius: 2.6, pointBorderWidth: 0,
      pointBackgroundColor: lowColor, backgroundColor: lowColor, order: 0 }
  ]},
  options: Object.assign({}, baseOptions, {
    layout: {padding: {top: 38, right: 0, left: 0, bottom: 0}},
    plugins: {
      tooltip: {enabled: false},
      panel: {spacing: 1.2},
      legendSpot: {left: 102.8, top: 27.8},
      legend: {
        display: true, position: 'top', align: 'start',
        labels: {
          usePointStyle: true, pointStyleWidth: 17, padding: 9.7, color: '#000',
          font: {family: FONT, size: 21},
          generateLabels: chart => chart.data.datasets.map((ds, i) => ({
            text: ds.label, pointStyle: legendKeys[i], fillStyle: ds.backgroundColor,
            strokeStyle: 'rgba(0,0,0,0)', lineWidth: 0, hidden: false, datasetIndex: i, fontColor: '#000'
          }))
        }
      }
    },
    scales: {
      x: axis({position: 'bottom', min: -3.36, max: 12.30, major: [0, 5, 10], minor: [-2.5, 2.5, 7.5],
               size: 77, tickLength: 7, pad: 2, fontSize: 21, format: v => String(v),
               title: 'predicted transcription rate', titlePad: {top: 0, bottom: 2}}),
      y: axis({position: 'left', min: -0.72, max: 15.8, major: [0, 5, 10, 15], minor: [2.5, 7.5, 12.5],
               size: 104, tickLength: 7, pad: 4, fontSize: 21, format: v => String(v),
               title: 'measured mRNA', titlePad: {top: 31, bottom: 0}})
    }
  }),
  plugins: [panelPlugin, legendSpot]
});
// keep the panel top fixed regardless of the legend row height
const topShift = scatter.chartArea.top - 79;
if (Math.abs(topShift) > 0.5) {
  scatter.options.layout.padding.top -= topShift;
  scatter.update();
}
</script>
</body>
</html>
